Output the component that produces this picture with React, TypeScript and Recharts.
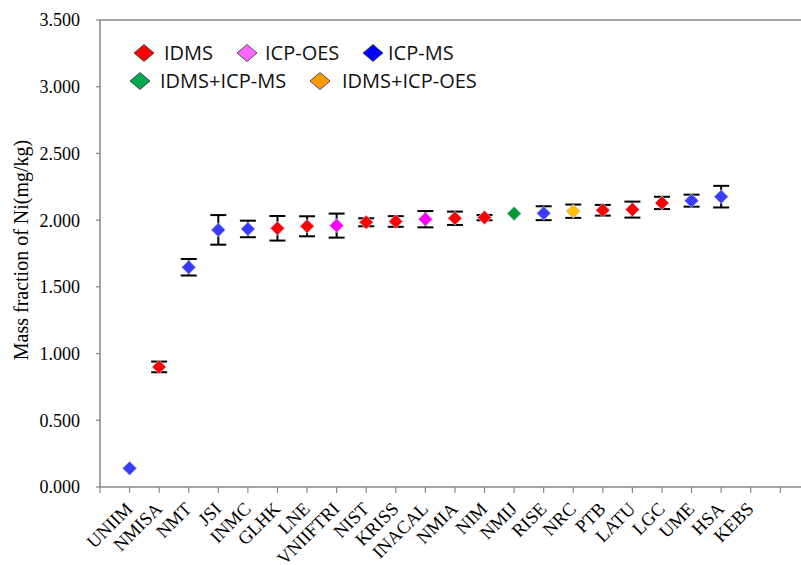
import React from 'react';
import { ScatterChart, Scatter, XAxis, YAxis, ErrorBar, ReferenceLine, Legend } from 'recharts';

// ---- data ----
const institutes = ['UNIIM', 'NMISA', 'NMT', 'JSI', 'INMC', 'GLHK', 'LNE', 'VNIIFTRI', 'NIST', 'KRISS', 'INACAL', 'NMIA', 'NIM', 'NMIJ', 'RISE', 'NRC', 'PTB', 'LATU', 'LGC', 'UME', 'HSA', 'KEBS'];
const massFraction = [0.14, 0.9, 1.647, 1.927, 1.934, 1.939, 1.954, 1.959, 1.984, 1.99, 2.007, 2.014, 2.019, 2.049, 2.052, 2.067, 2.074, 2.079, 2.129, 2.146, 2.176, null];
const uncertainty = [0, 0.04, 0.062, 0.111, 0.062, 0.092, 0.075, 0.09, 0.03, 0.04, 0.061, 0.05, 0.02, 0, 0.052, 0.05, 0.04, 0.06, 0.046, 0.045, 0.081, null];
const methodOf = ['ICP-MS', 'IDMS', 'ICP-MS', 'ICP-MS', 'ICP-MS', 'IDMS', 'IDMS', 'ICP-OES', 'IDMS', 'IDMS', 'ICP-OES', 'IDMS', 'IDMS', 'IDMS+ICP-MS', 'ICP-MS', 'IDMS+ICP-OES', 'IDMS', 'IDMS', 'IDMS', 'ICP-MS', 'ICP-MS', ''];
const methods = ['IDMS', 'ICP-OES', 'ICP-MS', 'IDMS+ICP-MS', 'IDMS+ICP-OES'];
const yTicks = [0, 0.5, 1, 1.5, 2, 2.5, 3, 3.5];
const xTicks = [0, 1, 2, 3, 4, 5, 6, 7, 8, 9, 10, 11, 12, 13, 14, 15, 16, 17, 18, 19, 20, 21, 22, 23];

// ---- styles ----
const markerColor: Record<string, string> = {
  'IDMS': '#FF0000',
  'ICP-OES': '#FF00FF',
  'ICP-MS': '#3A3AFF',
  'IDMS+ICP-MS': '#009933',
  'IDMS+ICP-OES': '#FFC000',
};
const legendColor: Record<string, string> = {
  'IDMS': '#FF0000',
  'ICP-OES': '#FF66FF',
  'ICP-MS': '#0000FF',
  'IDMS+ICP-MS': '#00A650',
  'IDMS+ICP-OES': '#FF9900',
};
const legendLayout = [
  { dx: 144, tx: 164, cy: 53 },
  { dx: 247, tx: 265, cy: 53 },
  { dx: 373, tx: 388, cy: 53 },
  { dx: 140, tx: 160, cy: 81 },
  { dx: 320, tx: 342, cy: 81 },
];
const AXIS = '#878787';
const SERIF = '"Liberation Serif", "Times New Roman", serif';

const allData = institutes
  .map((name, i) => ({ x: i + 1, y: massFraction[i], err: uncertainty[i], name, m: methodOf[i] }))
  .filter((d) => d.y !== null);
const seriesData = methods.map((m) => allData.filter((d) => d.m === m));

const Diamond = (props: any) => {
  const { cx, cy, fill } = props;
  if (cx == null || cy == null) return null;
  const r = 7;
  return (
    <polygon
      points={`${cx},${cy - r} ${cx + r},${cy} ${cx},${cy + r} ${cx - r},${cy}`}
      fill={fill}
      stroke="#b8c0dc"
      strokeWidth={0.8}
    />
  );
};
const Nothing = () => <g />;

const XTick = (props: any) => {
  const { x, y, payload } = props;
  const label = institutes[payload.value - 1];
  if (!label) return null;
  return (
    <g transform={`translate(${x + 4},${y + 15})`}>
      <text transform="rotate(-45)" textAnchor="end" fontFamily={SERIF} fontSize={18.5} fill="#000">
        {label}
      </text>
    </g>
  );
};

const LegendContent = () => (
  <div style={{ position: 'relative', width: 801, height: 100 }}>
    {methods.map((m, i) => {
      const L = legendLayout[i];
      return (
        <React.Fragment key={m}>
          <svg style={{ position: 'absolute', left: L.dx - 11, top: L.cy - 10 }} width={22} height={20}>
            <polygon points="11,1.5 21,10 11,18.5 1,10" fill={legendColor[m]} stroke="#505050" strokeWidth={1} />
          </svg>
          <span
            style={{
              position: 'absolute',
              left: L.tx,
              top: L.cy - 13,
              lineHeight: '26px',
              fontSize: 20,
              fontFamily: '"Open Sans", "Noto Sans", sans-serif',
              color: '#111',
              whiteSpace: 'nowrap',
            }}
          >
            {m}
          </span>
        </React.Fragment>
      );
    })}
  </div>
);

export default function App() {
  return (
    <div style={{ position: 'absolute', left: 0, top: 0, width: 801, height: 565, background: '#fff' }}>
      <ScatterChart width={801} height={565} margin={{ top: 20, right: 0, bottom: 8, left: 0 }}>
        <XAxis
          type="number"
          dataKey="x"
          domain={[0, 23.7]}
          ticks={xTicks}
          interval={0}
          allowDataOverflow
          height={70}
          tickSize={6}
          tickMargin={2}
          tick={<XTick />}
          axisLine={{ stroke: AXIS, strokeWidth: 1.5 }}
          tickLine={{ stroke: AXIS, strokeWidth: 1.2 }}
        />
        <YAxis
          type="number"
          dataKey="y"
          domain={[0, 3.5]}
          ticks={yTicks}
          interval={0}
          width={100}
          tickSize={4}
          tickMargin={16}
          tickFormatter={(v: number) => v.toFixed(3)}
          tick={{ fontFamily: SERIF, fontSize: 18, fill: '#000' }}
          axisLine={{ stroke: AXIS, strokeWidth: 1.5 }}
          tickLine={{ stroke: AXIS, strokeWidth: 1.2 }}
          label={{
            content: () => (
              <text
                x={28}
                y={250}
                transform="rotate(-90, 28, 250)"
                textAnchor="middle"
                fontFamily={SERIF}
                fontSize={20}
                fill="#000"
              >
                Mass fraction of Ni(mg/kg)
              </text>
            ),
          }}
        />
        <ReferenceLine y={3.5} stroke={AXIS} strokeWidth={1.5} />
        <Legend
          layout="horizontal"
          verticalAlign="middle"
          align="center"
          content={<LegendContent />}
          wrapperStyle={{ left: 0, top: 0, width: 801, height: 100 }}
        />
        <Scatter
          name="errors"
          data={allData}
          fill="none"
          shape={<Nothing />}
          legendType="none"
          isAnimationActive={false}
        >
          <ErrorBar dataKey="err" direction="y" width={8} strokeWidth={2} stroke="#000" />
        </Scatter>
        {methods.map((m, i) => (
          <Scatter
            key={m}
            name={m}
            data={seriesData[i]}
            fill={markerColor[m]}
            shape={<Diamond />}
            isAnimationActive={false}
          />
        ))}
      </ScatterChart>
    </div>
  );
}
